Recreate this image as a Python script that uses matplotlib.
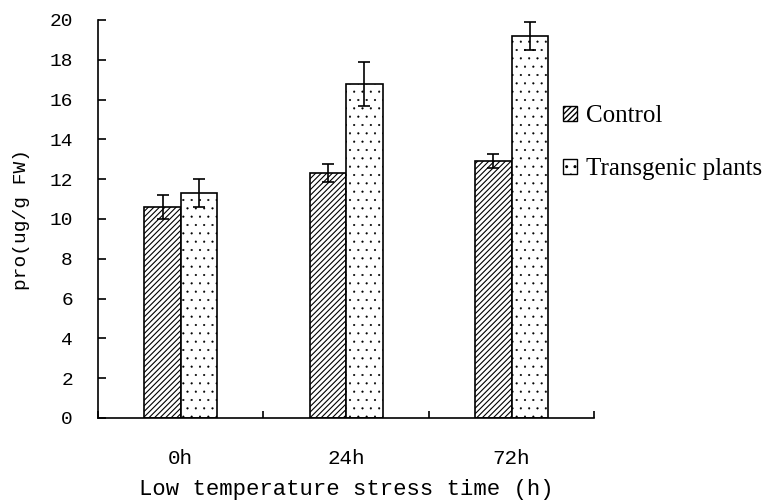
import numpy as np
import matplotlib as mpl
import matplotlib.pyplot as plt
from matplotlib.patches import Patch

times = ['0h', '24h', '72h']
control = [10.6, 12.3, 12.9]
control_err = [0.6, 0.45, 0.35]
transgenic = [11.3, 16.8, 19.2]
transgenic_err = [0.7, 1.1, 0.7]
series_names = ['Control', 'Transgenic plants']
y_ticks = [0, 2, 4, 6, 8, 10, 12, 14, 16, 18, 20]

mono = 'Liberation Mono'
serif = 'Liberation Serif'

fig = plt.figure(figsize=(7.84, 5), dpi=100)
ax = fig.add_axes([0.125, 0.164, 0.633, 0.796])

x = np.arange(len(times))
w = 0.22
err_kw = dict(ecolor='black', elinewidth=1.2, capsize=4, capthick=1.2)

with mpl.rc_context({'hatch.linewidth': 0.8}):
    b1 = ax.bar(x - w / 2, control, w, yerr=control_err, color='white', edgecolor='black',
                hatch='//////', linewidth=1.2, error_kw=err_kw)
    h1 = Patch(facecolor='white', edgecolor='black', hatch='//////')
with mpl.rc_context({'hatch.linewidth': 0.3}):
    b2 = ax.bar(x + w / 2, transgenic, w, yerr=transgenic_err, color='white', edgecolor='black',
                hatch='..', linewidth=1.2, error_kw=err_kw)
    h2 = Patch(facecolor='white', edgecolor='black', hatch='..')
for p in b2.patches + [h2]:
    if hasattr(p, 'set_hatch_linewidth'):
        p.set_hatch_linewidth(0.3)

ax.set_xlim(-0.5, 2.5)
ax.set_ylim(0, 20)
ax.spines['top'].set_visible(False)
ax.spines['right'].set_visible(False)
ax.spines['left'].set_linewidth(1.2)
ax.spines['bottom'].set_linewidth(1.2)

ax.set_xticks(x)
ax.set_xticklabels(times, fontfamily=mono, fontsize=15)
ax.tick_params(axis='x', which='major', length=0, pad=22)
ax.set_xticks(np.arange(-0.5, 3.0, 1.0), minor=True)
ax.tick_params(axis='x', which='minor', direction='in', length=5, width=1.2)

ax.set_yticks(y_ticks)
ax.set_yticklabels([str(v) for v in y_ticks], fontfamily=mono, fontsize=14)
ax.tick_params(axis='y', direction='in', length=6, width=1.2, pad=18)

ax.set_xlabel('Low temperature stress time (h)', fontfamily=mono, fontsize=16, labelpad=8)
ax.set_ylabel('pro(ug/g FW)', fontfamily=mono, fontsize=14, labelpad=14)

fig.legend([h1, h2], series_names, loc='upper left', bbox_to_anchor=(0.69, 0.835),
           frameon=False, prop={'family': serif, 'size': 18},
           handlelength=0.55, handleheight=0.55, handletextpad=0.35, labelspacing=1.25)

plt.savefig('out.png', dpi=100)
